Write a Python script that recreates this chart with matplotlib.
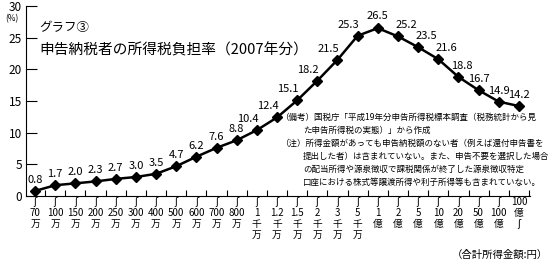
import matplotlib
matplotlib.use("Agg")
import matplotlib.pyplot as plt
import numpy as np

plt.rcParams['font.family'] = ['Noto Sans CJK JP', 'DejaVu Sans']

# income brackets (x axis) and burden rate (%)
WAVE = "ʃ"
tick_labels = [
    f"{WAVE}\n70\n万", f"{WAVE}\n100\n万", f"{WAVE}\n150\n万", f"{WAVE}\n200\n万",
    f"{WAVE}\n250\n万", f"{WAVE}\n300\n万", f"{WAVE}\n400\n万", f"{WAVE}\n500\n万",
    f"{WAVE}\n600\n万", f"{WAVE}\n700\n万", f"{WAVE}\n800\n万",
    f"{WAVE}\n1\n千\n万", f"{WAVE}\n1.2\n千\n万", f"{WAVE}\n1.5\n千\n万",
    f"{WAVE}\n2\n千\n万", f"{WAVE}\n3\n千\n万", f"{WAVE}\n5\n千\n万",
    f"{WAVE}\n1\n億", f"{WAVE}\n2\n億", f"{WAVE}\n5\n億", f"{WAVE}\n10\n億",
    f"{WAVE}\n20\n億", f"{WAVE}\n50\n億", f"{WAVE}\n100\n億", f"100\n億\n{WAVE}",
]
burden_rate = [0.8, 1.7, 2.0, 2.3, 2.7, 3.0, 3.5, 4.7, 6.2, 7.6, 8.8,
               10.4, 12.4, 15.1, 18.2, 21.5, 25.3, 26.5,
               25.2, 23.5, 21.6, 18.8, 16.7, 14.9, 14.2]
y_ticks = [0, 5, 10, 15, 20, 25, 30]

# (text, indented?)
note_lines = [
    ("（備考）国税庁「平成19年分申告所得税標本調査（税務統計から見", False),
    ("た申告所得税の実態）」から作成", True),
    ("（注）所得金額があっても申告納税額のない者（例えば還付申告書を", False),
    ("提出した者）は含まれていない。また、申告不要を選択した場合", True),
    ("の配当所得や源泉徴収で課税関係が終了した源泉徴収特定", True),
    ("口座における株式等譲渡所得や利子所得等も含まれていない。", True),
]

fig = plt.figure(figsize=(5.5, 2.6), dpi=100)
ax = fig.add_axes([26 / 550, 1 - 196 / 260, 504 / 550, 190 / 260])

x = np.arange(len(burden_rate))
ax.plot(x, burden_rate, color='black', lw=1.8, marker='D', markersize=5.5, zorder=3)

# value labels above points, nudged sideways on the steep parts
for i, v in enumerate(burden_rate):
    dx = 0
    if 11 <= i <= 16:
        dx = -9
    elif 18 <= i <= 20:
        dx = 8
    elif i == 21:
        dx = 3
    dy = 12 if i == 17 else 11
    ax.annotate(f"{v:.1f}", (i, v), xytext=(dx, dy), textcoords='offset pixels',
                ha='center', va='center', fontsize=8)

ax.set_xlim(-0.45, 24.55)
ax.set_ylim(0, 30)
ax.set_yticks(y_ticks)
ax.tick_params(axis='y', direction='in', length=8, width=0.8, labelsize=8.5, pad=3)

ax.set_xticks(x)
ax.set_xticklabels(tick_labels, fontsize=7, linespacing=1.1, va='top')
ax.set_xticks(x + 0.5, minor=True)
ax.tick_params(axis='x', which='major', length=0, pad=1)
ax.tick_params(axis='x', which='minor', direction='in', length=4, width=0.8)

for s in ['top', 'right']:
    ax.spines[s].set_visible(False)
ax.spines['left'].set_linewidth(0.8)
ax.spines['bottom'].set_linewidth(0.8)

fig.text(12 / 550, 1 - 19 / 260, "(%)", fontsize=6, ha='center', va='center')
fig.text(39 / 550, 1 - 27 / 260, "グラフ③", fontsize=9, ha='left', va='center')
fig.text(39 / 550, 1 - 50 / 260, "申告納税者の所得税負担率（2007年分）", fontsize=10.6,
         ha='left', va='center')

for k, (line, indented) in enumerate(note_lines):
    x0 = 303 if indented else 280
    fig.text(x0 / 550, 1 - (117 + 13 * k) / 260, line, fontsize=6.1,
             ha='left', va='center')

fig.text(548 / 550, 1 - 255 / 260, "（合計所得金額:円）", fontsize=7.5,
         ha='right', va='center')

fig.savefig("out.png", dpi=100)
